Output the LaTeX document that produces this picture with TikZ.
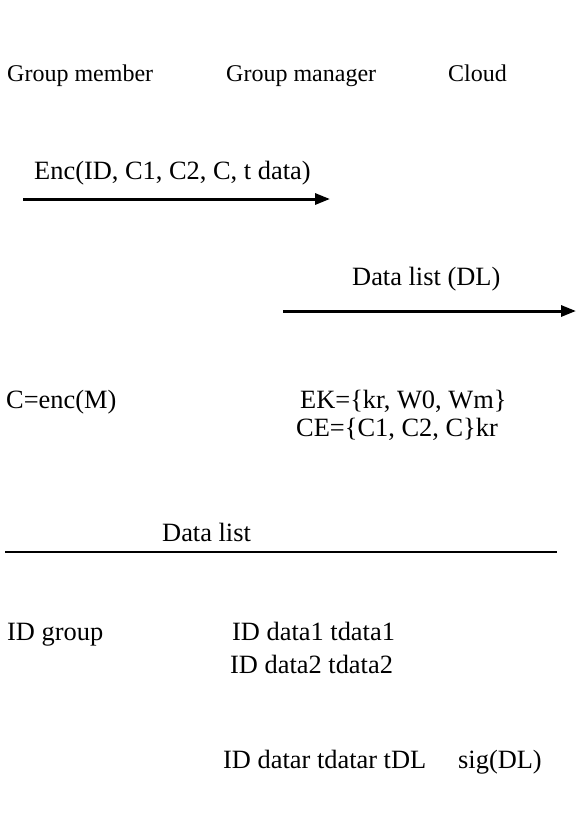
\documentclass[tikz,border=0pt]{standalone}
\usepackage{fontspec}
\setmainfont{Liberation Serif}
\usetikzlibrary{arrows.meta}
\begin{document}
\begin{tikzpicture}[x=1pt,y=-1pt,
  head/.style={anchor=base west,inner sep=0pt,font=\fontsize{24}{28}\selectfont},
  lbl/.style={anchor=base west,inner sep=0pt,font=\fontsize{26.4}{30}\selectfont},
  msg/.style={line width=3pt,-{Triangle[length=15pt,width=11pt]}},
  rule/.style={line width=2.5pt}]
\useasboundingbox (0,0) rectangle (576,827);
% parties
\node[head] (member)  at (7,81)   {Group member};
\node[head] (manager) at (226,81) {Group manager};
\node[head] (cloud)   at (448,81) {Cloud};
% member -> manager
\node[lbl] (enc) at (34,179) {Enc(ID, C1, C2, C, t data)};
\coordinate (e1s) at (23,199);
\coordinate (e1e) at (330,199);
\draw[msg] (e1s) -- (e1e);
% manager -> cloud
\node[lbl] (dl) at (352,285) {Data list (DL)};
\coordinate (e2s) at (283,311);
\coordinate (e2e) at (576,311);
\draw[msg] (e2s) -- (e2e);
% computations
\node[lbl] (cenc) at (6,408)   {C=enc(M)};
\node[lbl] (ek)   at (300,408) {EK=\{kr, W0, Wm\}};
\node[lbl] (ce)   at (296,436) {CE=\{C1, C2, C\}kr};
% data list table
\node[lbl] (dlist) at (162,541) {Data list};
\coordinate (r1) at (5,552);
\coordinate (r2) at (557,552);
\draw[rule] (r1) -- (r2);
\node[lbl] (idg) at (7,640)   {ID group};
\node[lbl] (d1)  at (232,640) {ID data1 tdata1};
\node[lbl] (d2)  at (230,673) {ID data2 tdata2};
\node[lbl] (dr)  at (223,768) {ID datar tdatar tDL};
\node[lbl] (sig) at (458,768) {sig(DL)};
\end{tikzpicture}
\end{document}
